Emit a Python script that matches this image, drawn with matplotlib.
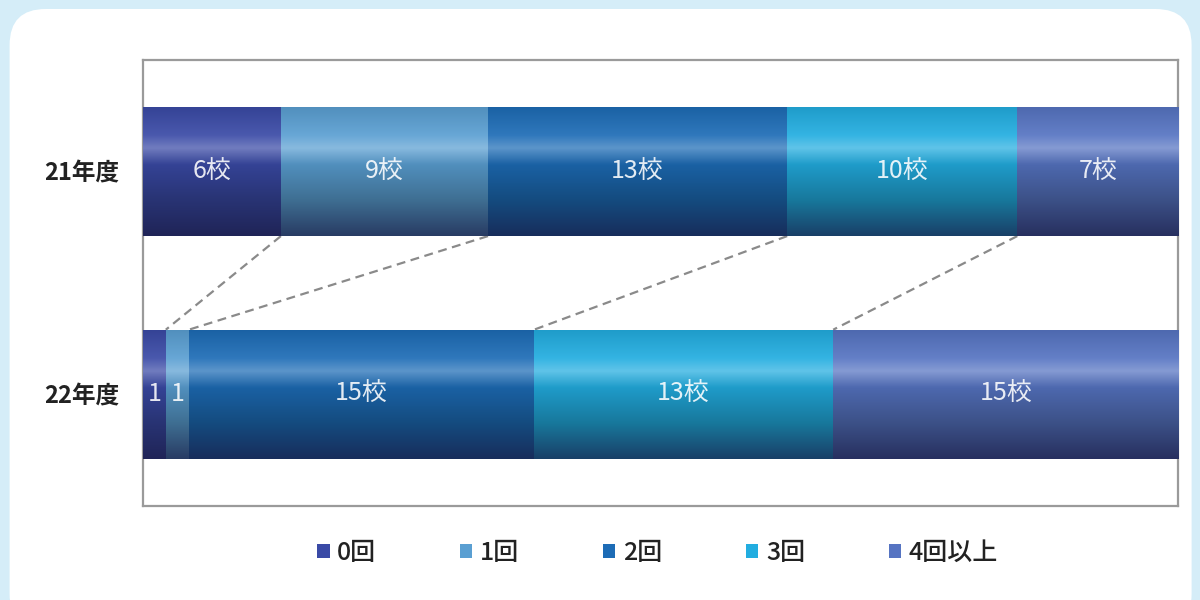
import numpy as np
import matplotlib
matplotlib.use("Agg")
import matplotlib.pyplot as plt
from matplotlib.patches import FancyBboxPatch, Patch
from matplotlib.colors import to_rgb

plt.rcParams['font.family'] = ['Noto Sans CJK JP', 'DejaVu Sans']

# data: number of schools per count category
years = ["22年度", "21年度"]
categories = ["0回", "1回", "2回", "3回", "4回以上"]
counts_21 = [6, 9, 13, 10, 7]
counts_22 = [1, 1, 15, 13, 15]
labels_21 = ["6校", "9校", "13校", "10校", "7校"]
labels_22 = ["1", "1", "15校", "13校", "15校"]
colors = ["#3a4aa6", "#5a9fd2", "#1d6cb6", "#22ade0", "#5674c2"]

fig = plt.figure(figsize=(12, 6), dpi=100)
fig.patch.set_facecolor("#d5edf8")

# rounded white panel behind everything
panel = FancyBboxPatch((0.008, -0.05), 0.985, 1.035,
                       boxstyle="round,pad=0,rounding_size=0.03",
                       transform=fig.transFigure, facecolor="white",
                       edgecolor="none", zorder=-10, mutation_aspect=2)
fig.patches.append(panel)

ax = fig.add_axes([0.119, 0.157, 0.863, 0.743])
ax.set_facecolor("white")

height = 0.58
rows = {1: (counts_21, labels_21), 0: (counts_22, labels_22)}


def gradient_for(color):
    # vertical shading: highlight band in the upper third, dark bottom edge
    base = np.array(to_rgb(color))
    white = np.ones(3)
    stops = [0.0, 0.22, 0.32, 0.45, 0.72, 1.0]
    cols = [base * 0.9,
            base * 0.92 + white * 0.08,
            base * 0.72 + white * 0.28,
            base * 0.9,
            base * 0.7,
            base * 0.28 + np.array([0.06, 0.06, 0.16])]
    t = np.linspace(0, 1, 100)
    img = np.zeros((100, 1, 3))
    for c in range(3):
        img[:, 0, c] = np.interp(t, stops, [col[c] for col in cols])
    return np.clip(img, 0, 1)


for y, (vals, labs) in rows.items():
    left = np.concatenate([[0], np.cumsum(vals)[:-1]])
    bars = ax.barh(y, vals, left=left, height=height, color=colors,
                   edgecolor="none", zorder=2)
    for bar, col, lab in zip(bars, colors, labs):
        x0, w = bar.get_x(), bar.get_width()
        y0, h = bar.get_y(), bar.get_height()
        im = ax.imshow(gradient_for(col), extent=[x0, x0 + w, y0, y0 + h],
                       aspect="auto", origin="upper", zorder=3,
                       interpolation="bilinear")
        im.set_clip_path(bar)
        ax.text(x0 + w / 2, y, lab, ha="center", va="center",
                color="white", fontsize=18, alpha=0.88, zorder=4)

# dashed connectors between category boundaries
top_edges = np.cumsum(counts_21)[:-1]
bot_edges = np.cumsum(counts_22)[:-1]
for xt, xb in zip(top_edges, bot_edges):
    ax.plot([xt, xb], [1 - height / 2, height / 2], ls=(0, (4, 2.5)),
            color="#8a8a8a", lw=1.6, zorder=1)

ax.set_xlim(0, sum(counts_21))
ax.set_ylim(-0.5, 1.5)
ax.set_yticks([0, 1])
ax.set_yticklabels(years, fontsize=17, color="#222222", fontweight="bold")
ax.set_xticks([])
ax.tick_params(axis="y", length=0, pad=17)
for s in ax.spines.values():
    s.set_color("#9a9a9a")
    s.set_linewidth(1.6)

handles = [Patch(facecolor=c, edgecolor="none") for c in colors]
leg = fig.legend(handles, categories, loc="center", bbox_to_anchor=(0.548, 0.078),
                 ncol=5, frameon=False, fontsize=18, handlelength=0.5,
                 handleheight=0.5, handletextpad=0.3, columnspacing=3.35)
for t in leg.get_texts():
    t.set_color("#222222")
    t.set_fontweight("medium")

fig.savefig("out.png", dpi=100, facecolor=fig.get_facecolor())
